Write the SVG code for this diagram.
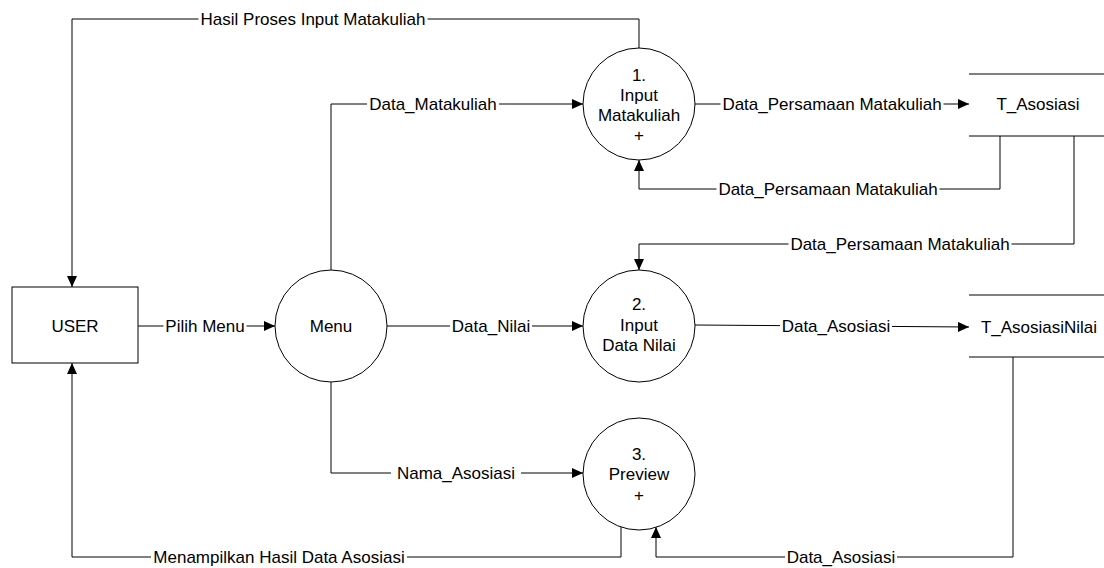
<svg xmlns="http://www.w3.org/2000/svg" width="1104" height="568" viewBox="0 0 1104 568">
<style>
  .bg { fill: #ffffff; }
  .shape { fill: #ffffff; stroke: #000000; stroke-width: 1; }
  .line { fill: none; stroke: #000000; stroke-width: 1; }
  .arrow { marker-end: url(#ah); }
  .gap { fill: #ffffff; stroke: none; }
  text { font-family: "Liberation Sans", Arial, sans-serif; font-size: 17px; fill: #000000; text-anchor: middle; }
</style>
<defs>
  <marker id="ah" markerWidth="11" markerHeight="10" refX="11" refY="5" orient="auto" markerUnits="userSpaceOnUse">
    <path d="M0,0 L11,5 L0,10 z" fill="#000000"/>
  </marker>
</defs>
<rect class="bg" x="0" y="0" width="1104" height="568"/>

<g id="connectors">
  <!-- Hasil Proses Input Matakuliah -->
  <polyline class="line arrow" points="639,48 639,19 72,19 72,287"/>
  <rect class="gap" x="198.5" y="11" width="229" height="16"/>
  <text x="313" y="25">Hasil Proses Input Matakuliah</text>
  <!-- Data_Matakuliah -->
  <polyline class="line arrow" points="331,270 331,104 583,104"/>
  <rect class="gap" x="367" y="96" width="132" height="16"/>
  <text x="433" y="110">Data_Matakuliah</text>
  <!-- Data_Persamaan Matakuliah to T_Asosiasi -->
  <line class="line arrow" x1="695" y1="104" x2="969" y2="104"/>
  <rect class="gap" x="720.5" y="96" width="223" height="16"/>
  <text x="832" y="110">Data_Persamaan Matakuliah</text>
  <!-- T_Asosiasi back to process 1 -->
  <polyline class="line arrow" points="1000,136 1000,189 639,189 639,160"/>
  <rect class="gap" x="716.5" y="181" width="223" height="16"/>
  <text x="828" y="195">Data_Persamaan Matakuliah</text>
  <!-- T_Asosiasi to process 2 -->
  <polyline class="line arrow" points="1074,136 1074,244 639,244 639,270"/>
  <rect class="gap" x="788.5" y="236" width="223" height="16"/>
  <text x="900" y="250">Data_Persamaan Matakuliah</text>
  <!-- Pilih Menu -->
  <line class="line arrow" x1="138" y1="326" x2="275" y2="326"/>
  <rect class="gap" x="163.5" y="318" width="83" height="16"/>
  <text x="205" y="332">Pilih Menu</text>
  <!-- Data_Nilai -->
  <line class="line arrow" x1="387" y1="326" x2="583" y2="326"/>
  <rect class="gap" x="450" y="318" width="82" height="16"/>
  <text x="491" y="332">Data_Nilai</text>
  <!-- Data_Asosiasi to T_AsosiasiNilai -->
  <line class="line arrow" x1="695" y1="325" x2="969" y2="327"/>
  <rect class="gap" x="780" y="318" width="112" height="16"/>
  <text x="836" y="332">Data_Asosiasi</text>
  <!-- Nama_Asosiasi -->
  <polyline class="line arrow" points="331,382 331,473 583,473"/>
  <rect class="gap" x="391" y="465" width="130" height="16"/>
  <text x="456" y="479">Nama_Asosiasi</text>
  <!-- T_AsosiasiNilai to Preview -->
  <polyline class="line arrow" points="1013,357 1013,557 656,557 656,527"/>
  <rect class="gap" x="785" y="549" width="112" height="16"/>
  <text x="841" y="563">Data_Asosiasi</text>
  <!-- Menampilkan Hasil Data Asosiasi -->
  <polyline class="line arrow" points="621,527 621,557 72,557 72,363"/>
  <rect class="gap" x="151" y="549" width="256" height="16"/>
  <text x="279" y="563">Menampilkan Hasil Data Asosiasi</text>
</g>

<g id="user">
  <rect class="shape" x="12" y="287" width="126" height="76"/>
  <text x="75" y="332">USER</text>
</g>

<g id="menu">
  <circle class="shape" cx="331" cy="326" r="56"/>
  <text x="331" y="332">Menu</text>
</g>

<g id="p1">
  <circle class="shape" cx="639" cy="104" r="56"/>
  <text x="639" y="81">1.</text>
  <text x="639" y="101">Input</text>
  <text x="639" y="121">Matakuliah</text>
  <text x="639" y="141">+</text>
</g>

<g id="p2">
  <circle class="shape" cx="639" cy="326" r="56"/>
  <text x="639" y="310">2.</text>
  <text x="639" y="331">Input</text>
  <text x="639" y="351">Data Nilai</text>
</g>

<g id="p3">
  <circle class="shape" cx="639" cy="474" r="56"/>
  <text x="639" y="460">3.</text>
  <text x="639" y="480">Preview</text>
  <text x="639" y="501">+</text>
</g>

<g id="t_asosiasi">
  <line class="line" x1="969" y1="74" x2="1104" y2="74"/>
  <line class="line" x1="969" y1="136" x2="1104" y2="136"/>
  <text x="1038" y="110">T_Asosiasi</text>
</g>

<g id="t_asosiasinilai">
  <line class="line" x1="969" y1="295" x2="1104" y2="295"/>
  <line class="line" x1="969" y1="357" x2="1104" y2="357"/>
  <text x="1039" y="333">T_AsosiasiNilai</text>
</g>
</svg>
